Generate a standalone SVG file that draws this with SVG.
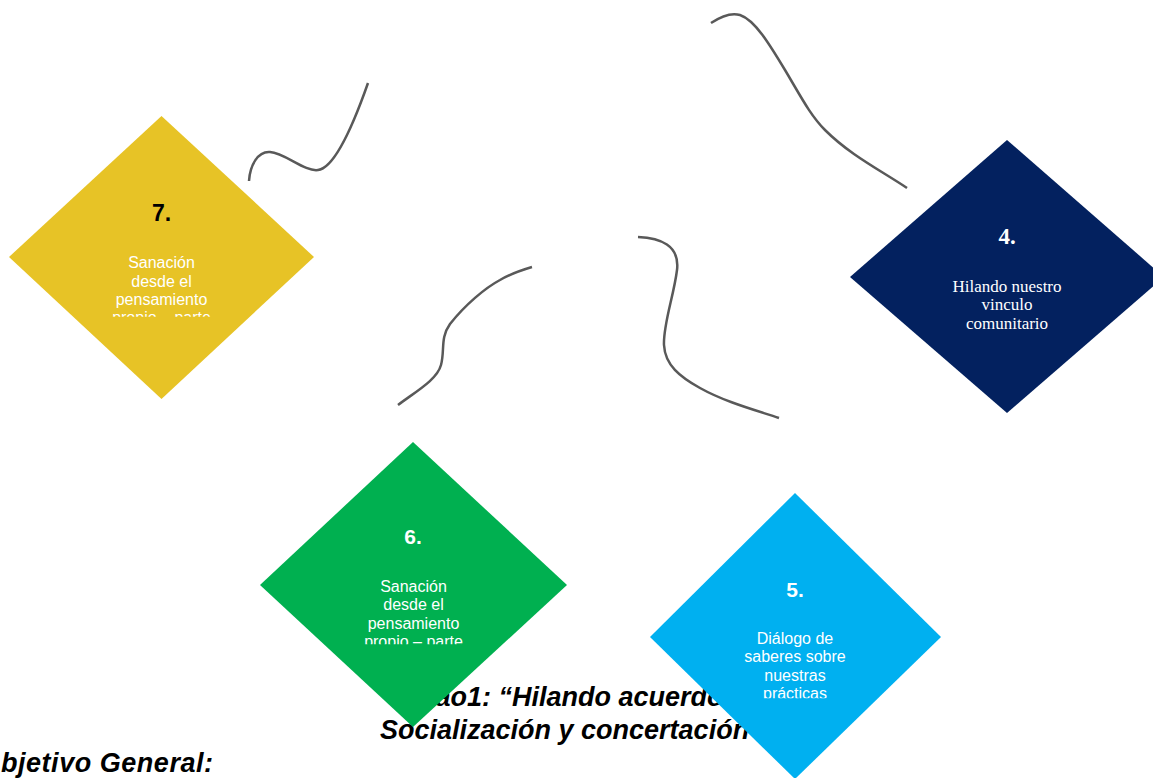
<svg xmlns="http://www.w3.org/2000/svg" width="1153" height="778" viewBox="0 0 1153 778">
  <style>
    .title { font-family: "Liberation Sans", Arial, sans-serif; font-weight: bold; font-style: italic; font-size: 27px; fill: #000000; }
    .num { font-family: "Liberation Sans", Arial, sans-serif; font-weight: bold; text-anchor: middle; }
    .lbl { font-family: "Liberation Sans", Arial, sans-serif; font-size: 16px; text-anchor: middle; fill: #FFFFFF; }
    .serif { font-family: "Liberation Serif", "Times New Roman", serif; text-anchor: middle; fill: #FFFFFF; }
    .conn { fill: none; stroke: #595959; stroke-width: 2.5; stroke-linecap: butt; }
  </style>
  <defs>
    <clipPath id="clip7"><rect x="90" y="190" width="145" height="126.7"/></clipPath>
    <clipPath id="clip6"><rect x="340" y="520" width="145" height="124.3"/></clipPath>
    <clipPath id="clip5"><rect x="720" y="570" width="150" height="128.3"/></clipPath>
  </defs>
  <rect width="1153" height="778" fill="#FFFFFF"/>

  <g id="title">
    <text class="title" x="435.5" y="706">ao1: “Hilando acuerdo</text>
    <text class="title" x="380" y="739">Socialización y concertación</text>
    <text class="title" x="1" y="772" font-size="24" textLength="212" lengthAdjust="spacing">bjetivo General:</text>
  </g>

  <g id="connectors">
    <path class="conn" d="M249,181 C250,165 258,151 270,152 C285,153 305,172 318,170 C335,168 355,120 368,83"/>
    <path class="conn" d="M711,23 C720,17 730,12 740,15 C755,20 770,45 785,70 C800,95 810,115 825,130 C850,155 880,170 907,188"/>
    <path class="conn" d="M398,405 C415,392 437,380 441,365 C445,350 440,338 450,324 C465,305 485,288 500,280 C510,274 522,270 532,267"/>
    <path class="conn" d="M638,237 C660,238 680,245 677,270 C674,295 663,325 664,345 C665,365 680,377 700,388 C725,402 755,410 779,418"/>
  </g>

  <g id="node7">
    <polygon points="161.5,116 314,257 161.5,399 9,257" fill="#E7C326"/>
    <text class="num" x="161.5" y="221" font-size="23" fill="#000000">7.</text>
    <g clip-path="url(#clip7)">
      <text class="lbl" x="161.5" y="268" fill="#FFF8E6">Sanación</text>
      <text class="lbl" x="161.5" y="286.5" fill="#FFF8E6">desde el</text>
      <text class="lbl" x="161.5" y="305" fill="#FFF8E6">pensamiento</text>
      <text class="lbl" x="161.5" y="323" fill="#FFF8E6">propio – parte</text>
    </g>
  </g>

  <g id="node4">
    <polygon points="1007,140 1164,277 1007,413 850,277" fill="#03215F"/>
    <text class="serif" x="1007" y="244" font-size="23" font-weight="bold">4.</text>
    <text class="serif" x="1007" y="291.5" font-size="17">Hilando nuestro</text>
    <text class="serif" x="1007" y="310" font-size="17">vinculo</text>
    <text class="serif" x="1007" y="328.5" font-size="17">comunitario</text>
  </g>

  <g id="node6">
    <polygon points="413,442 567,585 413,727 260,585" fill="#00B050"/>
    <text class="num" x="413" y="544" font-size="21" fill="#FFFFFF">6.</text>
    <g clip-path="url(#clip6)">
      <text class="lbl" x="413.5" y="592">Sanación</text>
      <text class="lbl" x="413.5" y="610.4">desde el</text>
      <text class="lbl" x="413.5" y="628.8">pensamiento</text>
      <text class="lbl" x="413.5" y="647.2">propio – parte</text>
    </g>
  </g>

  <g id="node5">
    <polygon points="795,493 941,637 795,779 650,637" fill="#00B0F0"/>
    <text class="num" x="795" y="597" font-size="21" fill="#FFFFFF">5.</text>
    <g clip-path="url(#clip5)">
      <text class="lbl" x="795" y="644">Diálogo de</text>
      <text class="lbl" x="795" y="662.4">saberes sobre</text>
      <text class="lbl" x="795" y="680.8">nuestras</text>
      <text class="lbl" x="795" y="699.2">prácticas</text>
    </g>
  </g>
</svg>
